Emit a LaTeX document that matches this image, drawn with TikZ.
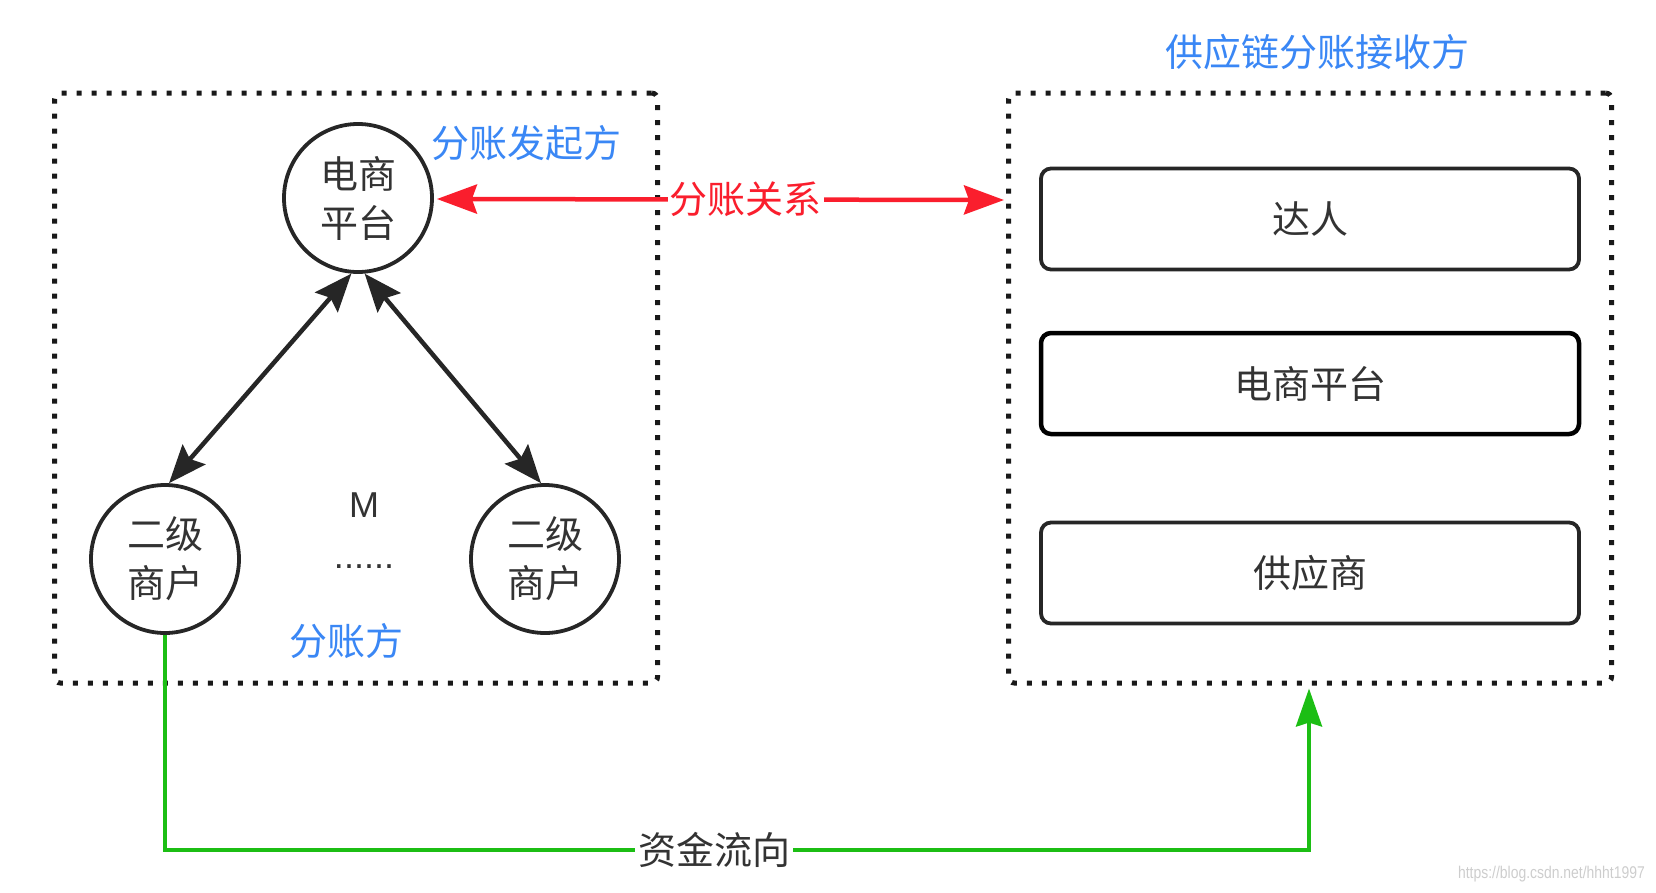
\documentclass[tikz,border=0pt]{standalone}
\usepackage{fontspec}
\setmainfont{Liberation Sans}
\newfontfamily\cjk{Noto Sans CJK SC}
\usetikzlibrary{arrows.meta}
\definecolor{txtgray}{HTML}{333333}
\definecolor{lblblue}{RGB}{58,135,245}
\definecolor{relred}{RGB}{250,30,45}
\definecolor{flowgreen}{RGB}{28,190,20}
\definecolor{wmgray}{RGB}{205,205,205}
\tikzset{
  circnode/.style={circle, draw=black!85, line width=3.8pt, minimum size=148pt, inner sep=0pt,
    font=\cjk\fontsize{38}{49}\selectfont, text=txtgray, align=center},
  recvbox/.style={rounded corners=10pt, draw=black!85, line width=3.8pt, minimum width=538pt,
    minimum height=101pt, font=\cjk\fontsize{38}{46}\selectfont, text=txtgray},
  groupbox/.style={draw=black!90, line width=5pt, dash pattern=on 5pt off 10pt,
    rounded corners=6pt, minimum width=603pt, minimum height=590pt},
  bluelbl/.style={font=\cjk\fontsize{38}{46}\selectfont, text=lblblue, inner sep=0pt},
  blkarrow/.style={line width=4.5pt, draw=black!85,
    {Stealth[length=38pt,width=30pt,inset=6pt]}-{Stealth[length=38pt,width=30pt,inset=6pt]}},
  redarrow/.style={line width=4.5pt, draw=relred,
    {Stealth[length=40pt,width=29pt,inset=5pt]}-{Stealth[length=40pt,width=29pt,inset=5pt]}},
  greenarrow/.style={line width=4pt, draw=flowgreen, -{Stealth[length=38pt,width=26pt,inset=4pt]}},
}
\begin{document}
\begin{tikzpicture}[x=1pt,y=-1pt]
\useasboundingbox (0,0) rectangle (1656,892);

% group boxes
\node[groupbox] (lb) at (356,388) {};
\node[groupbox] (rb) at (1310,388) {};

% titles
\node[bluelbl] (rtitle) at (1317,52) {供应链分账接收方};
\node[bluelbl] (initlbl) at (526,143) {分账发起方};
\node[bluelbl] (splitlbl) at (346,641) {分账方};

% circles
\node[circnode] (tp) at (358,198) {电商\\平台};
\node[circnode] (ll) at (165,559) {二级\\商户};
\node[circnode] (lr) at (545,559) {二级\\商户};

% M and dots
\node[font=\fontsize{36}{40}\selectfont, text=txtgray, inner sep=0pt] (mlbl) at (364,505) {M};
\node[font=\fontsize{36}{40}\selectfont, text=txtgray, inner sep=0pt] (dots) at (364,567) {......};

% receiver boxes
\node[recvbox] (dr) at (1310,219) {达人};
\node[recvbox, draw=black, line width=4.5pt] (ds) at (1310,383.5) {电商平台};
\node[recvbox] (gy) at (1310,573) {供应商};

% black double arrows
\draw[blkarrow] (tp.-95) -- (ll.87);
\draw[blkarrow] (tp.-85) -- (lr.93);

% red relation arrow
\coordinate (redR) at (rb.west |- tp.east);
\draw[redarrow] ([xshift=3pt,yshift=-1pt]tp.east) -- node[pos=0.545, fill=white, inner sep=2pt,
  font=\cjk\fontsize{38}{46}\selectfont, text=relred] (rellbl) {分账关系} ([xshift=-2pt,yshift=-2pt]redR);

% green money flow
\coordinate (g1) at (165,850);
\coordinate (g2) at (1309,850);
\draw[greenarrow] (ll.south) -- (g1) -- node[pos=0.48, fill=white, inner sep=3pt,
  font=\cjk\fontsize{38}{46}\selectfont, text=txtgray] (flowlbl) {资金流向} (g2) -- ([yshift=-3pt]rb.south -| g2);

% watermark
\node[anchor=east, font=\fontsize{17}{20}\selectfont, text=wmgray, xscale=0.82, inner sep=0pt] (wm) at (1645,874) {https://blog.csdn.net/hhht1997};
\end{tikzpicture}
\end{document}
